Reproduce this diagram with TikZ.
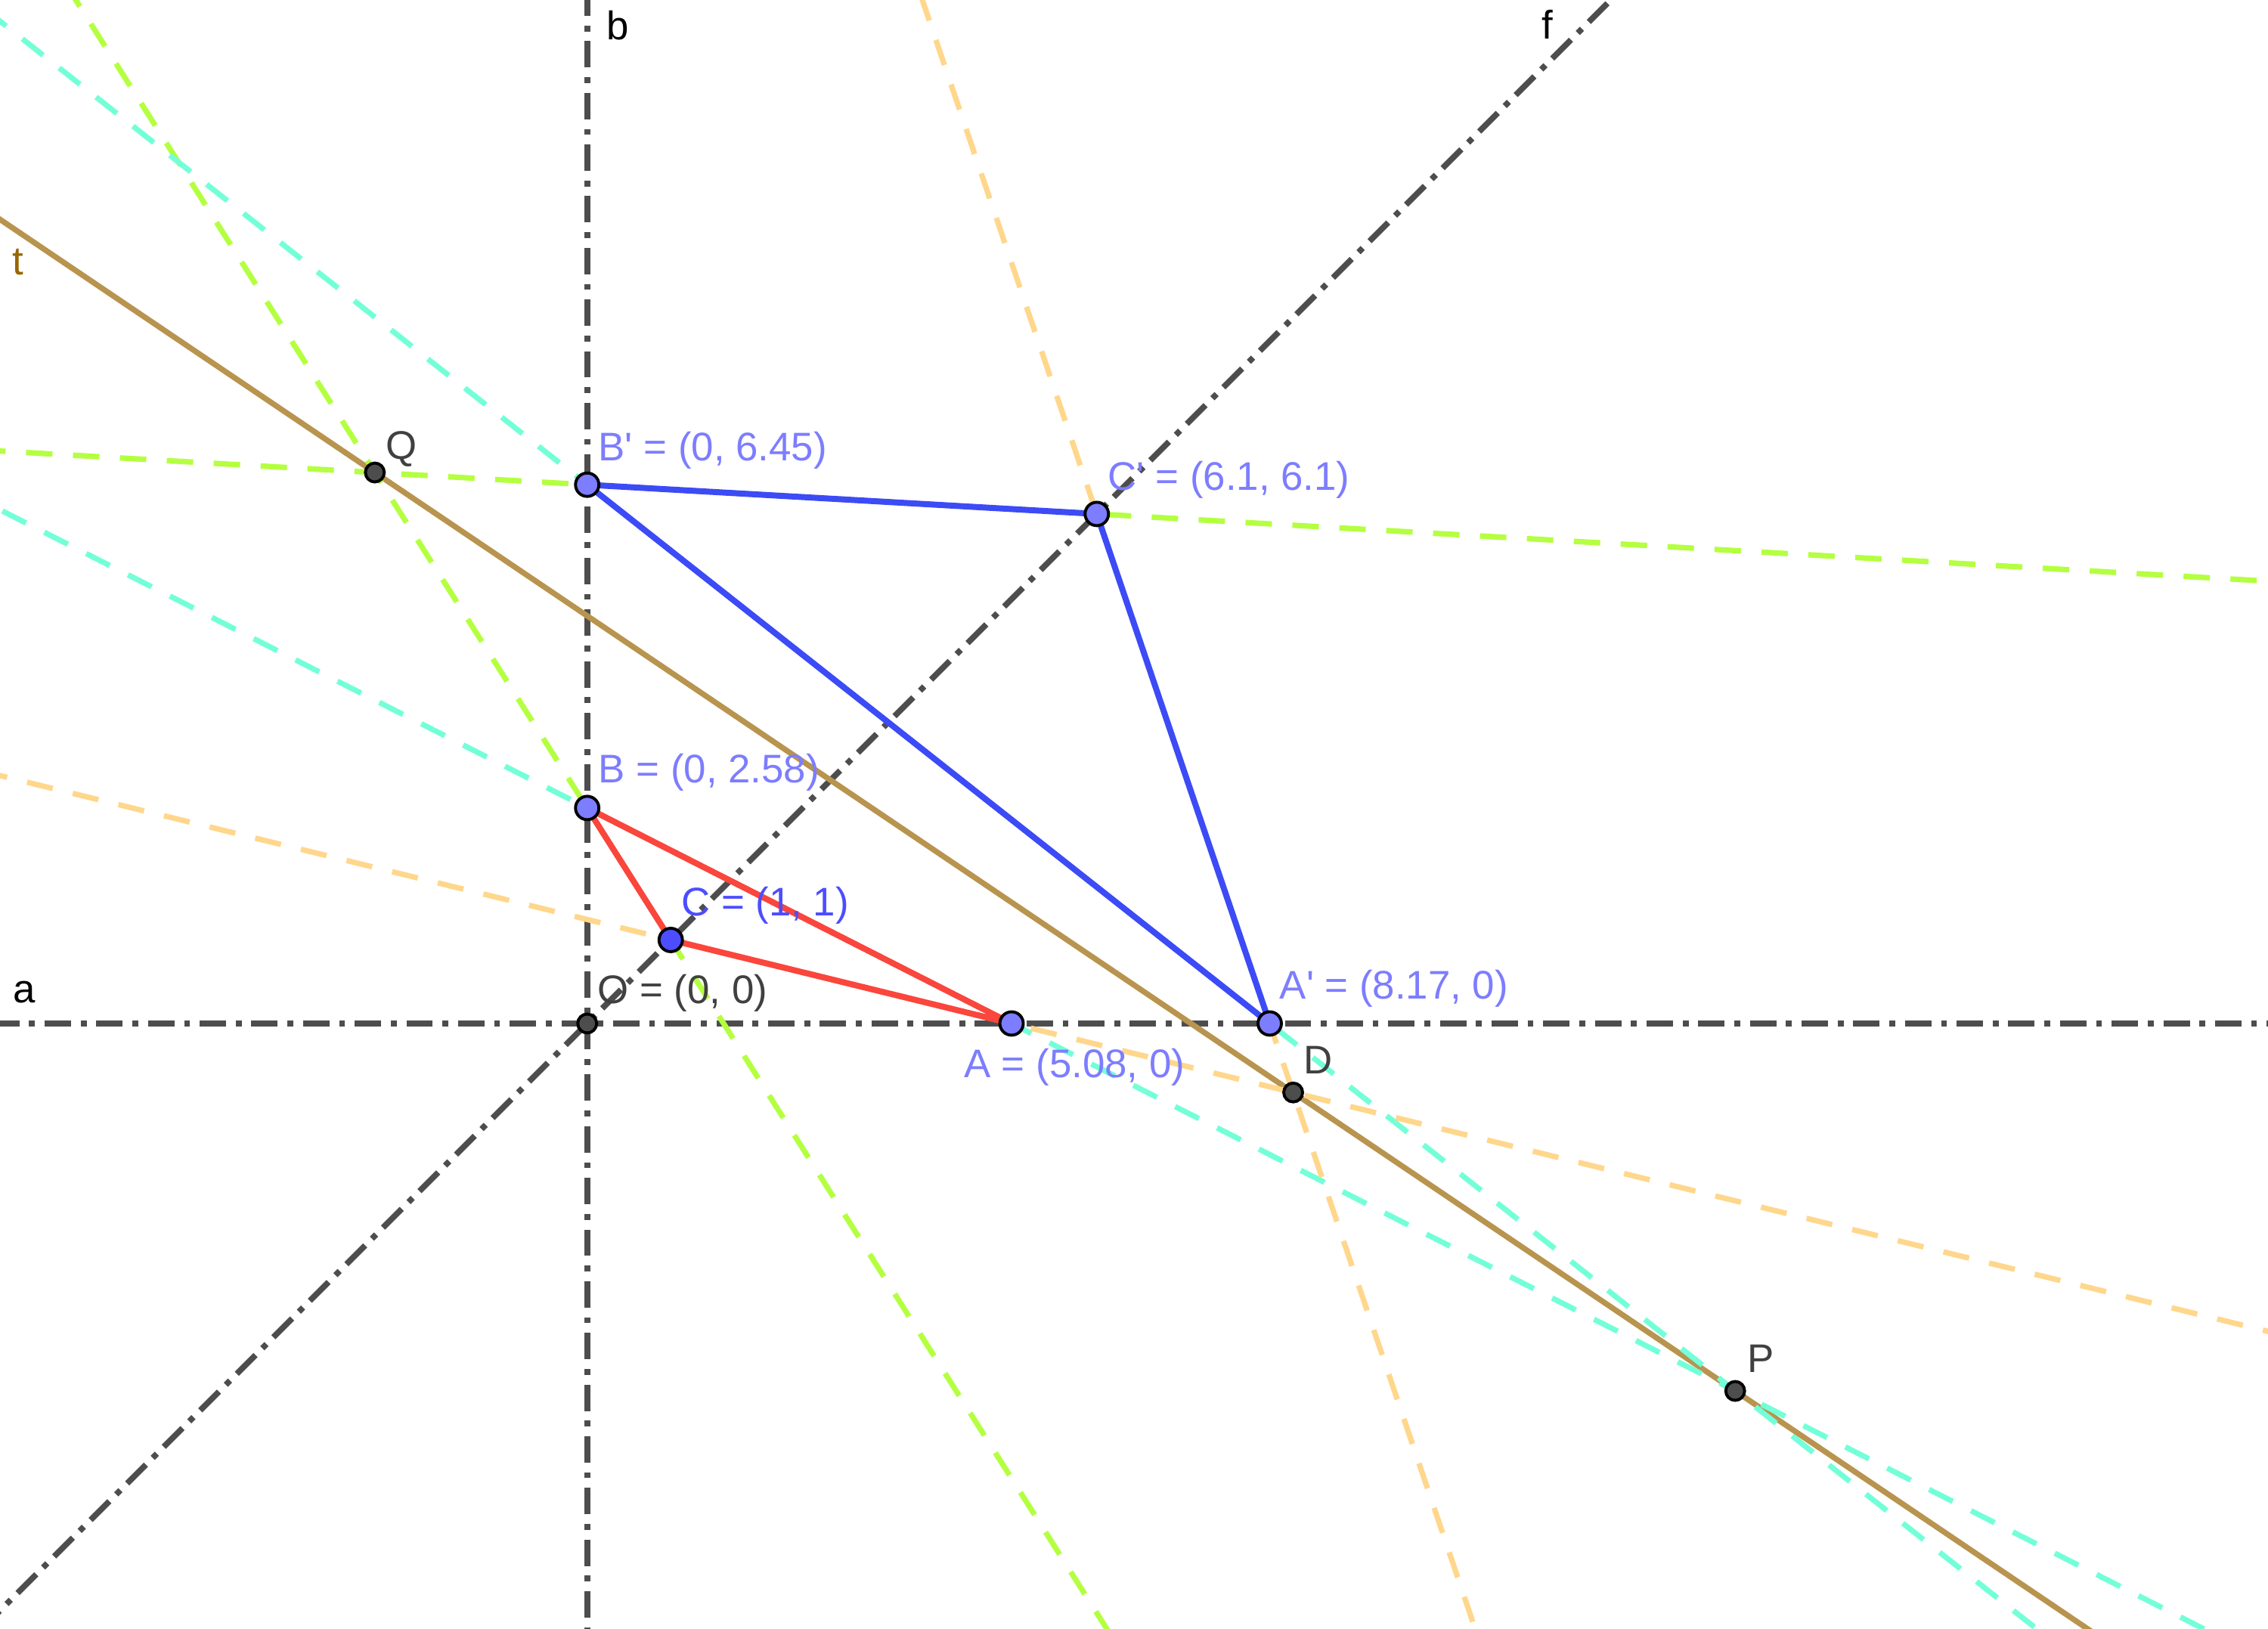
\documentclass[tikz,border=0pt]{standalone}
\usepackage{fontspec}
\setmainfont{Liberation Sans}
\usetikzlibrary{calc}
\definecolor{axisgray}{RGB}{77,77,77}
\definecolor{ptgray}{RGB}{77,77,77}
\definecolor{txtgray}{RGB}{64,64,64}
\definecolor{lgreen}{RGB}{180,255,64}
\definecolor{lcyan}{RGB}{115,255,216}
\definecolor{lorange}{RGB}{255,215,140}
\definecolor{tbrown}{RGB}{184,148,78}
\definecolor{ttext}{RGB}{153,102,0}
\definecolor{tred}{RGB}{250,70,60}
\definecolor{tblue}{RGB}{60,75,245}
\definecolor{ptlight}{RGB}{125,125,255}
\definecolor{ptdark}{RGB}{77,77,255}
\newcommand\pr{\textquotesingle}
\tikzset{
  axisline/.style={axisgray, line width=2pt, dash pattern=on 9pt off 3.3pt on 2pt off 3.3pt},
  auxline/.style={line width=1.85pt, dash pattern=on 9pt off 7pt},
  tline/.style={tbrown, line width=1.9pt},
  triline/.style={line width=2.05pt, line join=round},
  ptsmall/.style={circle, draw=black, line width=1pt, minimum size=0.226cm, inner sep=0pt},
  ptbig/.style={circle, draw=black, line width=1pt, minimum size=0.28cm, inner sep=0pt},
  lbl/.style={anchor=base west, inner sep=0pt, outer sep=0pt},
}
\begin{document}
\begin{tikzpicture}[x=1cm, y=1cm, font=\fontsize{13.6}{16}\selectfont]
\useasboundingbox (-7.029,-7.249) rectangle (20.12,12.253);
\clip (-7.029,-7.249) rectangle (20.12,12.253);
\fill[white] (-7.029,-7.249) rectangle (20.12,12.253);
% points
\coordinate (O) at (0,0);
\coordinate (X1) at (1,0);
\coordinate (Y1) at (0,1);
\coordinate (A) at (5.08,0);
\coordinate (B) at (0,2.58);
\coordinate (C) at (1,1);
\coordinate (Ap) at (8.17,0);
\coordinate (Bp) at (0,6.45);
\coordinate (Cp) at (6.1,6.1);
\coordinate (P) at (intersection of B--A and Bp--Ap);
\coordinate (Q) at (intersection of B--C and Bp--Cp);
\coordinate (D) at (intersection of C--A and Cp--Ap);
% axes and f
\draw[axisline] ($(O)!-30!(X1)$) -- ($(O)!30!(X1)$);
\draw[axisline] ($(O)!-30!(Y1)$) -- ($(O)!30!(Y1)$);
\draw[axisline] ($(O)!-30!(C)$) -- ($(O)!30!(C)$);
% line t
\draw[tline] ($(Q)!-5!(P)$) -- ($(Q)!5!(P)$);
% auxiliary dashed lines
\draw[auxline, lgreen] ($(B)!-30!(C)$) -- ($(B)!30!(C)$);
\draw[auxline, lgreen] ($(Bp)!-30!(Cp)$) -- ($(Bp)!30!(Cp)$);
\draw[auxline, lcyan] ($(B)!-30!(A)$) -- ($(B)!30!(A)$);
\draw[auxline, lcyan] ($(Bp)!-30!(Ap)$) -- ($(Bp)!30!(Ap)$);
\draw[auxline, lorange] ($(C)!-30!(A)$) -- ($(C)!30!(A)$);
\draw[auxline, lorange] ($(Cp)!-30!(Ap)$) -- ($(Cp)!30!(Ap)$);
% triangles
\draw[triline, tred] (A) -- (B) -- (C) -- cycle;
\draw[triline, tblue] (Ap) -- (Bp) -- (Cp) -- cycle;
% point markers
\node[ptsmall, fill=ptgray] (nO) at (O) {};
\node[ptsmall, fill=ptgray] (nQ) at (Q) {};
\node[ptsmall, fill=ptgray] (nD) at (D) {};
\node[ptsmall, fill=ptgray] (nP) at (P) {};
\node[ptbig, fill=ptlight] (nA) at (A) {};
\node[ptbig, fill=ptlight] (nB) at (B) {};
\node[ptbig, fill=ptdark] (nC) at (C) {};
\node[ptbig, fill=ptlight] (nAp) at (Ap) {};
\node[ptbig, fill=ptlight] (nBp) at (Bp) {};
\node[ptbig, fill=ptlight] (nCp) at (Cp) {};
% labels
\node[lbl, text=txtgray] (lO) at ($(O)+(0.127,0.235)$) {O = (0, 0)};
\node[lbl, text=ptlight] (lA) at ($(A)+(-0.57,-0.65)$) {A = (5.08, 0)};
\node[lbl, text=ptlight] (lB) at ($(B)+(0.136,0.305)$) {B = (0, 2.58)};
\node[lbl, text=ptdark] (lC) at ($(C)+(0.127,0.286)$) {C = (1, 1)};
\node[lbl, text=ptlight] (lAp) at ($(Ap)+(0.12,0.292)$) {A\pr{} = (8.17, 0)};
\node[lbl, text=ptlight] (lBp) at ($(Bp)+(0.136,0.29)$) {B\pr{} = (0, 6.45)};
\node[lbl, text=ptlight] (lCp) at ($(Cp)+(0.136,0.28)$) {C\pr{} = (6.1, 6.1)};
\node[lbl, text=txtgray] (lD) at ($(D)+(0.127,0.226)$) {D};
\node[lbl, text=txtgray] (lP) at ($(P)+(0.145,0.226)$) {P};
\node[lbl, text=txtgray] (lQ) at ($(Q)+(0.136,0.16)$) {Q};
\node[lbl, text=black] (la) at (-6.872,0.247) {a};
\node[lbl, text=black] (lb) at (0.229,11.776) {b};
\node[lbl, text=black] (lf) at (11.43,11.785) {f};
\node[lbl, text=ttext] (lt) at (-6.881,8.959) {t};
\end{tikzpicture}
\end{document}
